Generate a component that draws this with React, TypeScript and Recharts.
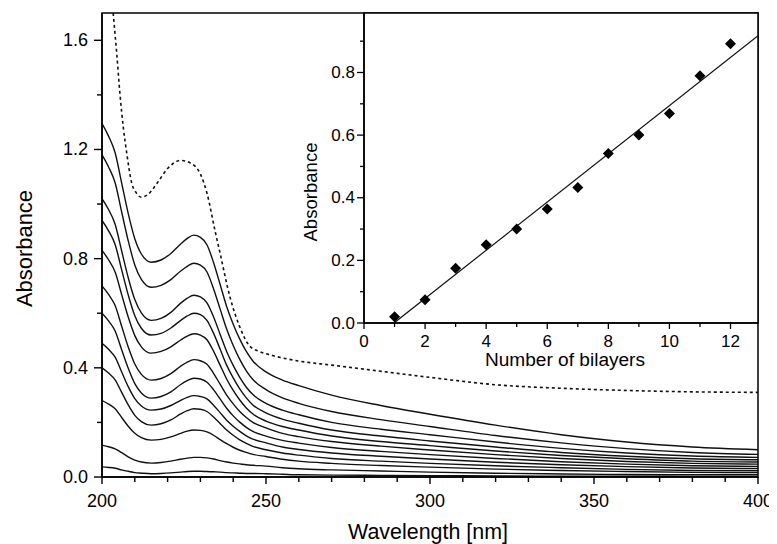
import React from 'react';
import { LineChart, Line, XAxis, YAxis, ReferenceArea, ComposedChart, Scatter } from 'recharts';

const FONT = '"Liberation Sans", Arial, Helvetica, sans-serif';
const W = 769;
const H = 536;

// Main chart: UV-Vis spectra (wavelength in nm, absorbance)
const wavelengths = [200, 202, 204, 206, 208, 210, 212, 215, 218, 221, 224, 226, 228, 230, 232, 234, 236, 238, 240, 242, 244, 246, 250, 255, 260, 270, 285, 300, 320, 340, 360, 380, 400];

const layer1 = [0.037, 0.035, 0.032, 0.026, 0.021, 0.016, 0.014, 0.012, 0.013, 0.015, 0.018, 0.020, 0.021, 0.021, 0.020, 0.019, 0.018, 0.016, 0.015, 0.014, 0.013, 0.013, 0.012, 0.010, 0.008, 0.007, 0.006, 0.005, 0.004, 0.003, 0.003, 0.002, 0.002];
const layer2 = [0.117, 0.111, 0.103, 0.089, 0.074, 0.062, 0.055, 0.051, 0.053, 0.058, 0.065, 0.069, 0.072, 0.072, 0.070, 0.066, 0.060, 0.055, 0.051, 0.048, 0.045, 0.043, 0.040, 0.034, 0.030, 0.026, 0.022, 0.018, 0.014, 0.011, 0.009, 0.008, 0.008];
const layer3 = [0.28, 0.267, 0.250, 0.218, 0.186, 0.160, 0.144, 0.135, 0.138, 0.147, 0.160, 0.168, 0.172, 0.171, 0.165, 0.153, 0.137, 0.122, 0.109, 0.098, 0.090, 0.083, 0.075, 0.065, 0.058, 0.050, 0.042, 0.036, 0.029, 0.024, 0.020, 0.017, 0.016];
const layer4 = [0.40, 0.381, 0.356, 0.310, 0.264, 0.226, 0.203, 0.190, 0.195, 0.209, 0.231, 0.243, 0.250, 0.248, 0.240, 0.220, 0.196, 0.172, 0.153, 0.136, 0.123, 0.112, 0.100, 0.088, 0.080, 0.068, 0.058, 0.050, 0.041, 0.034, 0.028, 0.024, 0.023];
const layer5 = [0.49, 0.468, 0.439, 0.385, 0.331, 0.287, 0.260, 0.245, 0.249, 0.262, 0.281, 0.292, 0.298, 0.295, 0.286, 0.263, 0.236, 0.208, 0.186, 0.167, 0.151, 0.139, 0.125, 0.110, 0.101, 0.088, 0.076, 0.066, 0.054, 0.045, 0.038, 0.033, 0.031];
const layer6 = [0.60, 0.572, 0.535, 0.466, 0.398, 0.342, 0.308, 0.289, 0.295, 0.312, 0.339, 0.353, 0.362, 0.359, 0.347, 0.320, 0.286, 0.252, 0.224, 0.201, 0.182, 0.167, 0.150, 0.134, 0.124, 0.108, 0.094, 0.082, 0.068, 0.056, 0.047, 0.041, 0.039];
const layer7 = [0.70, 0.669, 0.628, 0.552, 0.476, 0.414, 0.376, 0.355, 0.361, 0.379, 0.406, 0.421, 0.430, 0.426, 0.413, 0.380, 0.340, 0.300, 0.268, 0.240, 0.218, 0.200, 0.180, 0.160, 0.148, 0.130, 0.113, 0.099, 0.082, 0.068, 0.057, 0.050, 0.047];
const layer8 = [0.83, 0.796, 0.751, 0.668, 0.586, 0.518, 0.477, 0.454, 0.460, 0.477, 0.502, 0.516, 0.525, 0.520, 0.503, 0.461, 0.410, 0.359, 0.317, 0.282, 0.253, 0.231, 0.205, 0.185, 0.172, 0.150, 0.130, 0.115, 0.095, 0.079, 0.067, 0.058, 0.055];
const layer9 = [0.94, 0.902, 0.852, 0.759, 0.667, 0.591, 0.545, 0.520, 0.526, 0.546, 0.574, 0.590, 0.600, 0.595, 0.574, 0.527, 0.469, 0.410, 0.363, 0.323, 0.290, 0.264, 0.235, 0.212, 0.197, 0.172, 0.150, 0.132, 0.110, 0.090, 0.076, 0.067, 0.063];
const layer10 = [1.02, 0.980, 0.926, 0.828, 0.730, 0.650, 0.601, 0.574, 0.581, 0.603, 0.637, 0.655, 0.666, 0.660, 0.638, 0.587, 0.523, 0.460, 0.409, 0.365, 0.329, 0.302, 0.270, 0.245, 0.228, 0.200, 0.175, 0.155, 0.128, 0.105, 0.088, 0.077, 0.072];
const layer11 = [1.18, 1.136, 1.078, 0.971, 0.865, 0.777, 0.724, 0.695, 0.702, 0.723, 0.755, 0.772, 0.783, 0.776, 0.751, 0.690, 0.616, 0.542, 0.482, 0.431, 0.389, 0.357, 0.320, 0.290, 0.270, 0.240, 0.210, 0.185, 0.152, 0.125, 0.104, 0.090, 0.083];
const layer12 = [1.295, 1.249, 1.188, 1.077, 0.965, 0.873, 0.817, 0.787, 0.795, 0.819, 0.854, 0.874, 0.886, 0.878, 0.851, 0.786, 0.706, 0.625, 0.560, 0.505, 0.460, 0.425, 0.385, 0.355, 0.335, 0.300, 0.262, 0.230, 0.190, 0.155, 0.128, 0.110, 0.100];

const spectra = [layer1, layer2, layer3, layer4, layer5, layer6, layer7, layer8, layer9, layer10, layer11, layer12];

const dashedWavelengths = [203.4, 204.5, 205.5, 206.5, 207.5, 209, 210.5, 212, 214, 217, 220, 224, 227, 230, 232, 234.5, 236, 239, 242, 245, 248, 252, 260, 270, 280, 300, 320, 340, 360, 380, 400];
const dashedValues = [1.70, 1.55, 1.40, 1.28, 1.19, 1.08, 1.04, 1.025, 1.035, 1.08, 1.13, 1.16, 1.15, 1.11, 1.04, 0.90, 0.82, 0.66, 0.55, 0.48, 0.46, 0.445, 0.425, 0.41, 0.395, 0.365, 0.338, 0.325, 0.317, 0.312, 0.31];

const mainXTicks = [200, 210, 220, 230, 240, 250, 260, 270, 280, 290, 300, 310, 320, 330, 340, 350, 360, 370, 380, 390, 400];
const mainYTicks = [0, 0.2, 0.4, 0.6, 0.8, 1.0, 1.2, 1.4, 1.6];

// Inset: absorbance at 228 nm vs number of bilayers
const bilayers = [1, 2, 3, 4, 5, 6, 7, 8, 9, 10, 11, 12];
const absorbance228 = [0.02, 0.074, 0.175, 0.25, 0.30, 0.364, 0.433, 0.541, 0.60, 0.669, 0.79, 0.892];
const fitX = [1, 12.9];
const fitY = [0.0013, 0.9176];
const insetXTicks = [0, 1, 2, 3, 4, 5, 6, 7, 8, 9, 10, 11, 12];
const insetYTicks = [0, 0.1, 0.2, 0.3, 0.4, 0.5, 0.6, 0.7, 0.8, 0.9];

const spectraData = spectra.map((vals) => wavelengths.map((x, j) => ({ x, y: vals[j] })));
const dashedData = dashedWavelengths.map((x, j) => ({ x, y: dashedValues[j] }));
const insetPoints = bilayers.map((x, j) => ({ x, y: absorbance228[j] }));
const fitData = fitX.map((x, j) => ({ x, y: fitY[j] }));

const MainXTick = (props: any) => {
  const { x, y, payload } = props;
  const v = payload.value;
  const major = v % 50 === 0;
  return (
    <g>
      <line x1={x} y1={y} x2={x} y2={y + (major ? 7 : 5)} stroke="#000" strokeWidth={1.4} />
      {major && (
        <text x={x} y={y + 24} textAnchor="middle" dominantBaseline="central" fontSize={18} fontFamily={FONT} fill="#000">
          {v}
        </text>
      )}
    </g>
  );
};

const MainYTick = (props: any) => {
  const { x, y, payload } = props;
  const v = payload.value;
  const major = Math.round(v * 10) % 4 === 0;
  return (
    <g>
      <line x1={x} y1={y} x2={x - (major ? 8 : 5)} y2={y} stroke="#000" strokeWidth={1.4} />
      {major && (
        <text x={x - 14} y={y} textAnchor="end" dominantBaseline="central" fontSize={18} fontFamily={FONT} fill="#000">
          {v.toFixed(1)}
        </text>
      )}
    </g>
  );
};

const InsetXTick = (props: any) => {
  const { x, y, payload } = props;
  const v = payload.value;
  const major = v % 2 === 0;
  return (
    <g>
      <line x1={x} y1={y} x2={x} y2={y + (major ? 6 : 4)} stroke="#000" strokeWidth={1.3} />
      {major && (
        <text x={x} y={y + 18} textAnchor="middle" dominantBaseline="central" fontSize={17} fontFamily={FONT} fill="#000">
          {v}
        </text>
      )}
    </g>
  );
};

const InsetYTick = (props: any) => {
  const { x, y, payload } = props;
  const v = payload.value;
  const major = Math.round(v * 10) % 2 === 0;
  return (
    <g>
      <line x1={x} y1={y} x2={x - (major ? 7 : 4)} y2={y} stroke="#000" strokeWidth={1.3} />
      {major && (
        <text x={x - 9} y={y} textAnchor="end" dominantBaseline="central" fontSize={17} fontFamily={FONT} fill="#000">
          {v.toFixed(1)}
        </text>
      )}
    </g>
  );
};

const Diamond = (props: any) => {
  const { cx, cy } = props;
  const r = 5.5;
  return <polygon points={`${cx},${cy - r} ${cx + r},${cy} ${cx},${cy + r} ${cx - r},${cy}`} fill="#000" />;
};

export default function App() {
  return (
    <div style={{ position: 'relative', width: W, height: H }}>
      <LineChart width={W} height={H} margin={{ top: 5, right: 19, bottom: 37, left: 34 }}>
        <XAxis
          type="number"
          dataKey="x"
          domain={[200, 400]}
          ticks={mainXTicks}
          allowDataOverflow
          height={30}
          tickSize={0}
          tickMargin={0}
          tick={<MainXTick />}
          axisLine={{ stroke: '#000', strokeWidth: 1.5 }}
          interval={0}
        />
        <YAxis
          type="number"
          domain={[0, 1.7]}
          ticks={mainYTicks}
          allowDataOverflow
          width={60}
          tickSize={0}
          tickMargin={0}
          tick={<MainYTick />}
          axisLine={{ stroke: '#000', strokeWidth: 1.5 }}
          interval={0}
        />
        <ReferenceArea x1={200} x2={400} y1={0} y2={1.7} fill="none" stroke="#000" strokeWidth={1.5} />
        {spectraData.map((d, i) => (
          <Line
            key={i}
            data={d}
            dataKey="y"
            type="monotone"
            dot={false}
            stroke="#111"
            strokeWidth={1.4}
            isAnimationActive={false}
          />
        ))}
        <Line
          data={dashedData}
          dataKey="y"
          type="monotone"
          dot={false}
          stroke="#111"
          strokeWidth={1.6}
          strokeDasharray="3 3"
          isAnimationActive={false}
        />
        <text x={420} y={531} textAnchor="middle" fontSize={22} fontFamily={FONT} fill="#000" textLength={160} lengthAdjust="spacingAndGlyphs">
          Wavelength [nm]
        </text>
        <text transform="translate(24,240.5) rotate(-90)" textAnchor="middle" fontSize={22} fontFamily={FONT} fill="#000" textLength={117} lengthAdjust="spacingAndGlyphs">
          Absorbance
        </text>
      </LineChart>
      <div style={{ position: 'absolute', left: 0, top: 0, pointerEvents: 'none' }}>
        <ComposedChart width={W} height={H} margin={{ top: 5, right: 19, bottom: 191, left: 316 }}>
          <XAxis
            type="number"
            dataKey="x"
            domain={[0, 12.9]}
            ticks={insetXTicks}
            allowDataOverflow
            height={30}
            tickSize={0}
            tickMargin={0}
            tick={<InsetXTick />}
            axisLine={{ stroke: '#000', strokeWidth: 1.5 }}
            interval={0}
          />
          <YAxis
            type="number"
            domain={[0, 0.99]}
            ticks={insetYTicks}
            allowDataOverflow
            width={40}
            tickSize={0}
            tickMargin={0}
            tick={<InsetYTick />}
            axisLine={{ stroke: '#000', strokeWidth: 1.5 }}
            interval={0}
          />
          <ReferenceArea x1={0} x2={12.9} y1={0} y2={0.99} fill="#fff" fillOpacity={1} stroke="#000" strokeWidth={1.5} />
          <Line data={fitData} dataKey="y" type="linear" dot={false} stroke="#111" strokeWidth={1.2} isAnimationActive={false} />
          <Scatter data={insetPoints} dataKey="y" shape={<Diamond />} isAnimationActive={false} />
          <text x={389} y={42} fontSize={22} fontFamily={FONT} fill="#000" textLength={216} lengthAdjust="spacingAndGlyphs">
            Absorbance at 228 nm
          </text>
          <text x={549} y={235} fontSize={15} fontFamily={FONT} fill="#000" textLength={145} lengthAdjust="spacingAndGlyphs">
            y = 0,077x - 0,0757
          </text>
          <text x={549} y={257} fontSize={16} fontFamily={FONT} fill="#000">
            <tspan>R</tspan>
            <tspan dy={-6} fontSize={10}>2</tspan>
            <tspan dy={6}> = 0,9935</tspan>
          </text>
          <text x={557} y={358} textAnchor="middle" fontSize={18} fontFamily={FONT} fill="#000" textLength={160} lengthAdjust="spacingAndGlyphs">
            Number of bilayers
          </text>
          <text transform="translate(309,184) rotate(-90)" textAnchor="middle" fontSize={19} fontFamily={FONT} fill="#000" textLength={99} lengthAdjust="spacingAndGlyphs">
            Absorbance
          </text>
        </ComposedChart>
      </div>
    </div>
  );
}
